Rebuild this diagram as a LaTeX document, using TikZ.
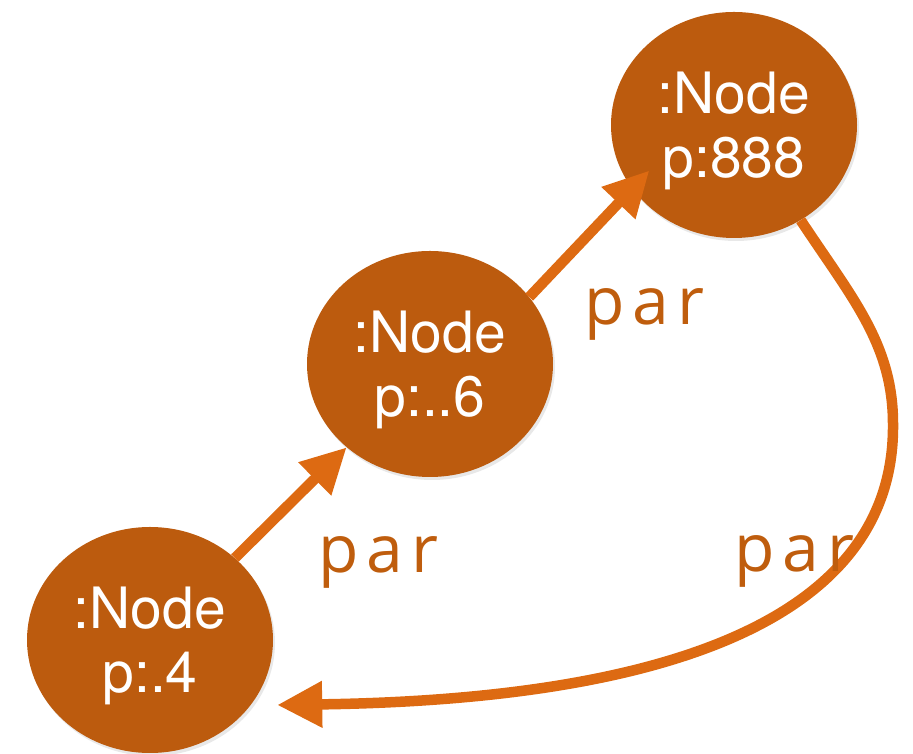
\documentclass[tikz,border=0pt]{standalone}
\usepackage{fontspec}
\setmainfont{TeX Gyre Heros}
\newfontfamily\parfont[LetterSpace=12]{Open Sans}
\usetikzlibrary{arrows.meta,shapes.geometric,shadows}
\definecolor{nodefill}{RGB}{188,91,14}
\definecolor{linkcol}{RGB}{221,106,18}
\definecolor{parcol}{RGB}{191,93,13}

\begin{document}
\begin{tikzpicture}[x=1pt,y=1pt,line cap=butt,line join=miter,
    ball/.style={ellipse,fill=nodefill,draw=none,minimum width=246pt,minimum height=226pt,
                 inner sep=0pt,text=white,align=center,text depth=0pt,
                 font=\fontsize{57pt}{64pt}\selectfont,
                 drop shadow={shadow xshift=2pt,shadow yshift=-3pt,opacity=0.18}},
    link/.style={draw=linkcol,line width=10.5pt,-{Triangle[length=45pt,width=44pt]}},
    parlabel/.style={anchor=base,text=parcol,inner sep=0pt,
                     font=\parfont\fontsize{66pt}{70pt}\selectfont}]
  \path[use as bounding box] (0,0) rectangle (913,754);   % bbox = 源画布 913x754 px
  % ---- 三个节点（椭圆中心，源 px 见行末注） ----
  \node[ball] (n1) at (150,114) {:Node\\p:.4};     % px(150,640)
  \node[ball] (n2) at (430,390) {:Node\\p:..6};    % px(430,364)
  \node[ball] (n3) at (734,629) {:Node\\p:888};    % px(734,125)
  % ---- 连线（箭头压在节点上） ----
  \draw[link] (n1.44) -- (n2.225);                       % n1 -> n2
  \draw[link,shorten >=-25pt] (n2.34) -- (n3.212);       % n2 -> n3，箭尖伸入 n3
  \draw[link] (n3.305) .. controls (852,456) and (893,410) .. (893,330)
              .. controls (895,150) and (700,55) .. ([shift={(4,-65)}]n1.east);  % n3 -> n1，尖端 px(277,705)
  % ---- 标签（anchor=base，基线取源图） ----
  \node[parlabel] (l1) at (378,181) {par};   % px 基线 573
  \node[parlabel] (l2) at (644,429) {par};   % px 基线 325
  \node[parlabel] (l3) at (794,182) {par};   % px 基线 572
\end{tikzpicture}
\end{document}
